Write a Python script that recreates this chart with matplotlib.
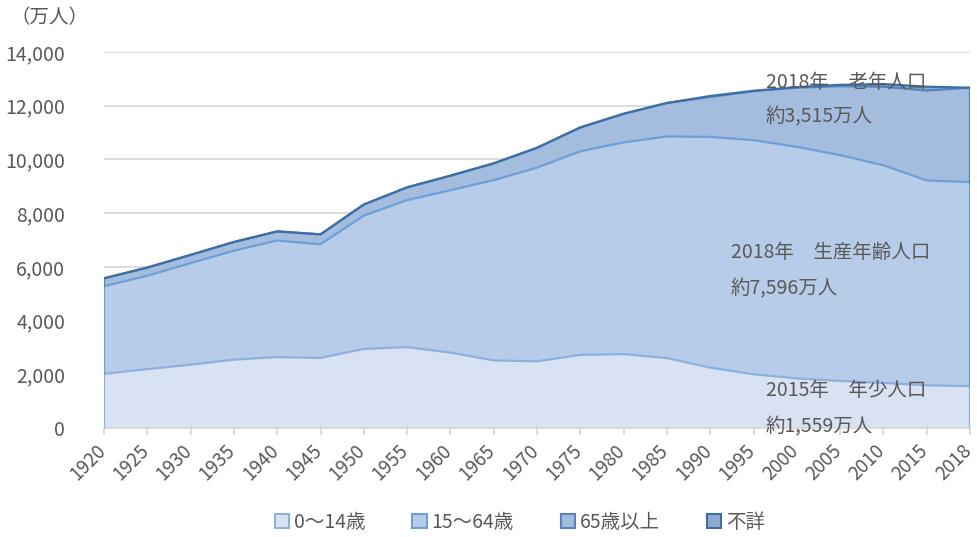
import matplotlib
matplotlib.use("Agg")
import matplotlib.pyplot as plt
from matplotlib.patches import Patch
import matplotlib.transforms as mtransforms
import numpy as np

plt.rcParams['font.family'] = ['Noto Sans CJK JP', 'DejaVu Sans']

years = ["1920", "1925", "1930", "1935", "1940", "1945", "1950", "1955", "1960", "1965",
         "1970", "1975", "1980", "1985", "1990", "1995", "2000", "2005", "2010", "2015", "2018"]
age_0_14 = [2017, 2192, 2358, 2545, 2640, 2610, 2943, 3012, 2807, 2517,
            2482, 2722, 2751, 2603, 2249, 2001, 1847, 1752, 1680, 1589, 1559]
age_15_64 = [3262, 3477, 3781, 4057, 4340, 4230, 4966, 5473, 6047, 6712,
             7212, 7581, 7884, 8251, 8590, 8716, 8622, 8409, 8103, 7629, 7596]
age_65 = [294, 305, 306, 323, 340, 370, 411, 475, 540, 624,
          739, 887, 1065, 1247, 1489, 1826, 2204, 2567, 2925, 3347, 3515]
unknown = [0, 0, 0, 0, 0, 0, 0, 0, 0, 0,
           0, 0, 0, 0, 33, 14, 20, 49, 98, 144, 0]

series_names = ["0～14歳", "15～64歳", "65歳以上", "不詳"]
series_values = [age_0_14, age_15_64, age_65, unknown]
fills = ["#d8e2f2", "#b6cce9", "#a4bcdd", "#8eaad0"]
edges = ["#8db1dd", "#6f9fd6", "#5384bd", "#3d6fa5"]

text_color = "#595959"

fig = plt.figure(figsize=(9.77, 5.37), dpi=100)
ax = fig.add_axes([104/977, 1 - 428/537, (970-104)/977, (428-52)/537])

x = np.arange(len(years))
base = np.zeros(len(years))
tops = []
for vals, fc in zip(series_values, fills):
    top = base + np.array(vals, dtype=float)
    ax.fill_between(x, base, top, facecolor=fc, edgecolor='none', zorder=2)
    tops.append((base.copy(), top.copy()))
    base = top

for (b, t), ec in zip(tops, edges):
    ax.plot(x, t, color=ec, lw=1.6, zorder=3, solid_joinstyle='round')
    ax.plot([x[0], x[0]], [b[0], t[0]], color=ec, lw=1.6, zorder=3)
    ax.plot([x[-1], x[-1]], [b[-1], t[-1]], color=ec, lw=1.6, zorder=3)

ax.set_xlim(0, len(years) - 1)
ax.set_ylim(0, 14000)
ax.set_yticks(np.arange(0, 14001, 2000))
ax.set_yticklabels([f"{v:,}" for v in range(0, 14001, 2000)])
ax.set_xticks(x)
ax.set_xticklabels(years, rotation=45, ha='right', rotation_mode='anchor')
ax.grid(axis='y', color='#d9d9d9', lw=1.3, zorder=1)
ax.set_axisbelow(True)
for s in ['top', 'right', 'left']:
    ax.spines[s].set_visible(False)
ax.spines['bottom'].set_color('#d9d9d9')
ax.spines['bottom'].set_linewidth(1.3)
ax.tick_params(axis='y', length=0, pad=28, labelsize=14, labelcolor=text_color)
ax.tick_params(axis='x', length=5, color='#d9d9d9', width=1.3, pad=4, labelsize=13.5, labelcolor=text_color)

offset = mtransforms.ScaledTranslation(-9/100, 0, fig.dpi_scale_trans)
for lbl in ax.get_xticklabels():
    lbl.set_transform(lbl.get_transform() + offset)

fig.text(10/977, 1 - 18/537, "（万人）", fontsize=14, color=text_color, va='center', ha='left')

ann = dict(fontsize=14, color=text_color, va='center', ha='left', zorder=5)
ax.annotate("2018年　老年人口", xy=(766/977, 1 - 82/537), xycoords='figure fraction', **ann)
ax.annotate("約3,515万人", xy=(766/977, 1 - 117/537), xycoords='figure fraction', **ann)
ax.annotate("2018年　生産年齢人口", xy=(731/977, 1 - 252/537), xycoords='figure fraction', **ann)
ax.annotate("約7,596万人", xy=(731/977, 1 - 289/537), xycoords='figure fraction', **ann)
ax.annotate("2015年　年少人口", xy=(766/977, 1 - 391/537), xycoords='figure fraction', **ann)
ax.annotate("約1,559万人", xy=(766/977, 1 - 427/537), xycoords='figure fraction', **ann)

handles = [Patch(facecolor=fc, edgecolor=ec, lw=1.5) for fc, ec in zip(fills, edges)]
fig.legend(handles, series_names, loc='center', bbox_to_anchor=(520/977, 1 - 522/537),
           ncol=4, frameon=False, fontsize=14, labelcolor=text_color,
           handlelength=0.75, handleheight=0.75, handletextpad=0.25, columnspacing=2.4)

fig.savefig("out.png", dpi=100)
